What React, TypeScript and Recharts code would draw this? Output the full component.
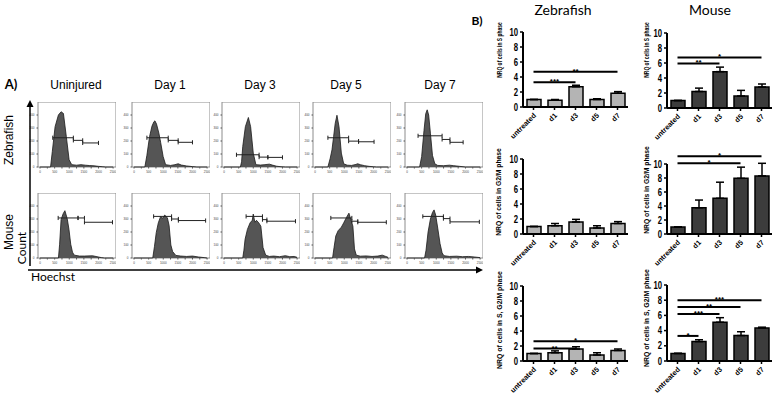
import React from 'react';
import {
  BarChart, Bar, XAxis, YAxis, ErrorBar, ReferenceLine,
  AreaChart, Area, ReferenceArea,
} from 'recharts';

const SANS = '"Liberation Sans", Arial, sans-serif';
const CAL = 'Lato, "Open Sans", sans-serif';

// ---- panel B data ----
const groups = ['untreated', 'd1', 'd3', 'd5', 'd7'];
const nrqTicks = [0, 2, 4, 6, 8, 10];

const zfS = [1.0, 0.9, 2.7, 1.0, 1.85];
const zfSErr = [0, 0.1, 0.2, 0.1, 0.2];
const msS = [1.0, 2.2, 4.85, 1.6, 2.8];
const msSErr = [0, 0.45, 0.6, 0.75, 0.4];
const zfG2M = [1.0, 1.1, 1.6, 0.8, 1.4];
const zfG2MErr = [0, 0.3, 0.35, 0.3, 0.25];
const msG2M = [1.0, 3.75, 5.1, 7.95, 8.3];
const msG2MErr = [0, 1.1, 2.3, 1.6, 1.8];
const zfSG2M = [1.0, 1.1, 1.6, 0.8, 1.4];
const zfSG2MErr = [0, 0.25, 0.3, 0.3, 0.2];
const msSG2M = [1.0, 2.55, 5.1, 3.35, 4.35];
const msSG2MErr = [0, 0.25, 0.6, 0.5, 0.1];

type Sig = { to: string; y: number; mark: string };
const zfSSig: Sig[] = [{ to: 'd3', y: 3.3, mark: '***' }, { to: 'd7', y: 4.7, mark: '**' }];
const msSSig: Sig[] = [{ to: 'd3', y: 5.95, mark: '**' }, { to: 'd7', y: 6.75, mark: '*' }];
const zfG2MSig: Sig[] = [];
const msG2MSig: Sig[] = [{ to: 'd5', y: 10.1, mark: '*' }, { to: 'd7', y: 11.1, mark: '*' }];
const zfSG2MSig: Sig[] = [{ to: 'd3', y: 1.66, mark: '**' }, { to: 'd7', y: 2.63, mark: '*' }];
const msSG2MSig: Sig[] = [
  { to: 'd1', y: 3.3, mark: '*' },
  { to: 'd3', y: 6.2, mark: '***' },
  { to: 'd5', y: 7.1, mark: '**' },
  { to: 'd7', y: 8.0, mark: '***' },
];

// ---- panel A data: Hoechst histograms [intensity, count] ----
const dayTitles = ['Uninjured', 'Day 1', 'Day 3', 'Day 5', 'Day 7'];
const hoechstTicks = [0, 250, 500, 750, 1000, 1250, 1500, 1750, 2000, 2250, 2500];
const zfCountTicks = [0, 100, 200, 300, 400];
const msCountTicks = [0, 100, 200, 300, 400];

const zfUninjured = [[0, 0], [360, 0], [420, 120], [515, 310], [628, 400], [720, 425], [800, 412], [900, 233], [995, 55], [1085, 18], [1250, 14], [1400, 18], [1550, 14], [1700, 11], [1850, 9], [2000, 5], [2150, 2], [2250, 0], [2500, 0]];
const zfDay1 = [[0, 0], [370, 0], [440, 90], [530, 233], [615, 315], [680, 348], [715, 355], [770, 330], [850, 260], [910, 190], [995, 81], [1080, 18], [1250, 12], [1400, 18], [1510, 25], [1620, 15], [1800, 8], [2000, 3], [2150, 0], [2500, 0]];
const zfDay3 = [[0, 0], [560, 0], [600, 40], [640, 157], [730, 310], [833, 381], [910, 310], [1000, 107], [1090, 18], [1250, 15], [1400, 18], [1550, 22], [1650, 15], [1800, 6], [1950, 2], [2100, 0], [2500, 0]];
const zfDay5 = [[0, 0], [440, 0], [520, 68], [580, 132], [635, 233], [690, 335], [750, 398], [820, 310], [900, 107], [980, 25], [1100, 14], [1250, 12], [1400, 20], [1460, 25], [1550, 18], [1700, 10], [1850, 5], [2000, 2], [2100, 0], [2500, 0]];
const zfDay7 = [[0, 0], [430, 0], [500, 80], [580, 280], [640, 410], [690, 440], [740, 400], [800, 260], [870, 90], [950, 25], [1050, 12], [1250, 10], [1450, 14], [1600, 10], [1800, 5], [2000, 0], [2500, 0]];

const msUninjured = [[0, 0], [630, 0], [670, 106], [720, 295], [790, 340], [850, 364], [930, 303], [990, 220], [1050, 106], [1110, 45], [1170, 22], [1350, 15], [1520, 15], [1800, 17], [1950, 10], [2100, 3], [2200, 0], [2500, 0]];
const msDay1 = [[0, 0], [640, 0], [700, 90], [760, 195], [830, 270], [910, 320], [970, 305], [1050, 330], [1140, 310], [1200, 250], [1260, 100], [1320, 50], [1430, 20], [1600, 15], [1800, 12], [2000, 15], [2200, 8], [2400, 3], [2500, 0]];
const msDay3 = [[0, 0], [640, 0], [680, 60], [720, 144], [800, 220], [890, 270], [965, 290], [1000, 338], [1055, 275], [1110, 290], [1190, 270], [1260, 245], [1335, 80], [1425, 22], [1550, 12], [1700, 15], [1900, 10], [2100, 18], [2250, 10], [2400, 12], [2500, 5]];
const msDay5 = [[0, 0], [600, 0], [650, 80], [710, 169], [790, 210], [900, 237], [980, 270], [1070, 310], [1160, 345], [1205, 310], [1295, 245], [1350, 70], [1410, 22], [1550, 14], [1750, 16], [1950, 12], [2150, 15], [2300, 22], [2420, 12], [2500, 5]];
const msDay7 = [[0, 0], [600, 0], [650, 60], [720, 200], [800, 300], [870, 350], [925, 370], [980, 330], [1050, 230], [1130, 110], [1200, 40], [1260, 18], [1450, 12], [1700, 14], [1900, 10], [2100, 12], [2300, 8], [2500, 3]];

// gates: G1 / S / G2M boundaries and marker heights
const zfGateX = [[435, 1140, 1460, 2000], [440, 1170, 1510, 2000], [425, 1200, 1500, 2000], [440, 1150, 1490, 2020], [377, 1200, 1470, 1920]];
const zfGateY = [[225, 205, 185], [225, 205, 190], [94, 76, 74], [225, 199, 194], [240, 212, 190]];
const msGateX = [[620, 1300, 1520, 2480], [670, 1285, 1517, 2450], [755, 1315, 1467, 2445], [540, 1260, 1463, 2440], [540, 1245, 1470, 2475]];
const msGateY = [[308, 308, 275], [320, 300, 288], [320, 295, 283], [308, 283, 275], [320, 303, 278]];

const zfHists = [zfUninjured, zfDay1, zfDay3, zfDay5, zfDay7];
const msHists = [msUninjured, msDay1, msDay3, msDay5, msDay7];

const boxLeft = [38, 132, 222, 313, 405];
const titleCx = [76, 170, 260, 346, 440];

function GroupTick(props: any) {
  const { x, y, payload } = props;
  const ax = x + 3;
  const ay = y + 4;
  return (
    <text x={ax} y={ay} transform={`rotate(-45 ${ax} ${ay})`} textAnchor="end"
      fontSize={7.2} fontWeight="bold" fontFamily={SANS} fill="#000">
      {payload.value}
    </text>
  );
}

function NrqTick(props: any) {
  const { x, y, payload } = props;
  const s = String(payload.value);
  return (
    <text x={x} y={y} dy={3.6} textAnchor="end" fontSize={10} fontWeight="bold"
      fontFamily={SANS} fill="#000" textLength={s.length * 4.3} lengthAdjust="spacingAndGlyphs">
      {s}
    </text>
  );
}

function NrqChart(props: {
  left: number; plotTop: number; plotH: number; values: number[]; errs: number[];
  fill: string; sigs: Sig[];
}) {
  const { left, plotTop, plotH, values, errs, fill, sigs } = props;
  const data = groups.map((g, i) => ({ g, v: values[i], e: [0, errs[i]] }));
  const top = plotTop - 30;
  return (
    <div style={{ position: 'absolute', left, top }}>
      <BarChart width={152} height={30 + plotH + 40} data={data}
        margin={{ top: 30, right: 2, bottom: 0, left: 0 }} barSize={14}>
        <XAxis dataKey="g" height={40} interval={0} tick={<GroupTick />} tickSize={3}
          tickLine={{ stroke: '#000', strokeWidth: 1.5 }} axisLine={{ stroke: '#000', strokeWidth: 2 }} />
        <YAxis domain={[0, 10]} allowDataOverflow ticks={nrqTicks} interval={0} width={45} tickSize={3}
          tick={<NrqTick />}
          tickLine={{ stroke: '#000', strokeWidth: 1.5 }} axisLine={{ stroke: '#000', strokeWidth: 2 }} />
        <Bar dataKey="v" fill={fill} stroke="#000" strokeWidth={1.5} isAnimationActive={false}>
          <ErrorBar dataKey="e" width={4} stroke="#000" strokeWidth={1.5} direction="y" />
        </Bar>
        {sigs.map((s) => (
          <ReferenceLine key={s.to + s.y} ifOverflow="visible" stroke="#000" strokeWidth={2}
            segment={[{ x: 'untreated', y: s.y }, { x: s.to, y: s.y }]}
            label={{ value: s.mark, position: 'top', offset: -2, fontSize: 8, fontWeight: 'bold', fill: '#000', fontFamily: SANS }} />
        ))}
      </BarChart>
    </div>
  );
}

function Hoechst(props: { left: number; top: number; points: number[][]; gx: number[]; gy: number[]; yTicks: number[] }) {
  const { left, top, points, gx, gy, yTicks } = props;
  const data = points.map(([x, c]) => ({ x, c }));
  const tickStyle = { fontSize: 3, fill: '#444', fontFamily: SANS };
  return (
    <div style={{ position: 'absolute', left: left - 10, top }}>
      <AreaChart width={88} height={75} data={data} margin={{ top: 0, right: 0, left: 0, bottom: 0 }}>
        <XAxis dataKey="x" type="number" domain={[-70, 2600]} ticks={hoechstTicks} interval={0}
          height={10} tick={tickStyle} tickSize={1.5} tickLine={{ stroke: '#555' }} axisLine={false}
          tickFormatter={(v: number) => (v % 500 === 0 ? String(v) : '')} />
        <YAxis type="number" domain={[0, 500]} ticks={yTicks} width={10} tick={tickStyle}
          tickSize={1.5} tickLine={{ stroke: '#555' }} axisLine={false} />
        <ReferenceArea x1={-70} x2={2600} y1={0} y2={500} fill="#fff" fillOpacity={0}
          stroke="#8c8c8c" strokeWidth={1} ifOverflow="visible" />
        <Area type="linear" dataKey="c" stroke="#1a1a1a" strokeWidth={0.8} fill="#555"
          fillOpacity={1} isAnimationActive={false} dot={false} activeDot={false} />
        {gy.map((h, i) => (
          <ReferenceLine key={'g' + i} ifOverflow="visible" stroke="#222" strokeWidth={1}
            segment={[{ x: gx[i], y: h }, { x: gx[i + 1], y: h }]} />
        ))}
        {gy.map((h, i) => (
          <ReferenceLine key={'a' + i} ifOverflow="visible" stroke="#222" strokeWidth={1}
            segment={[{ x: gx[i], y: h - 16 }, { x: gx[i], y: h + 16 }]} />
        ))}
        {gy.map((h, i) => (
          <ReferenceLine key={'b' + i} ifOverflow="visible" stroke="#222" strokeWidth={1}
            segment={[{ x: gx[i + 1], y: h - 16 }, { x: gx[i + 1], y: h + 16 }]} />
        ))}
      </AreaChart>
    </div>
  );
}

function Rot(props: { cx: number; cy: number; text: string; font: string; size: number; weight?: string }) {
  const { cx, cy, text, font, size, weight } = props;
  return (
    <div style={{
      position: 'absolute', left: cx - 50, top: cy - 8, width: 100, height: 16, lineHeight: '16px',
      textAlign: 'center', transform: 'rotate(-90deg)', fontFamily: font, fontSize: size,
      fontWeight: weight ?? 'normal', color: '#000', whiteSpace: 'nowrap',
    }}>{text}</div>
  );
}

function Txt(props: { cx: number; cy: number; text: string; font: string; size: number; weight?: string }) {
  const { cx, cy, text, font, size, weight } = props;
  return (
    <div style={{
      position: 'absolute', left: cx - 60, top: cy - 9, width: 120, height: 18, lineHeight: '18px',
      textAlign: 'center', fontFamily: font, fontSize: size, fontWeight: weight ?? 'normal',
      color: '#000', whiteSpace: 'nowrap',
    }}>{text}</div>
  );
}

// axis titles of panel B, squeezed along their length like the original
function NrqTitle(props: { x: number; y: number; squeeze: number; text: string }) {
  const { x, y, squeeze, text } = props;
  return (
    <g transform={`translate(${x} ${y}) rotate(-90) scale(${squeeze} 1)`}>
      <text x={0} y={0} textAnchor="middle" dominantBaseline="central" fontSize={7.5}
        fontWeight="bold" fontFamily={SANS} fill="#000">
        {text}
      </text>
    </g>
  );
}

export default function App() {
  return (
    <div style={{ position: 'absolute', left: 0, top: 0, width: 778, height: 399, background: '#fff', overflow: 'hidden' }}>
      {zfHists.map((p, i) => (
        <Hoechst key={'zf' + i} left={boxLeft[i]} top={102} points={p} gx={zfGateX[i]} gy={zfGateY[i]} yTicks={zfCountTicks} />
      ))}
      {msHists.map((p, i) => (
        <Hoechst key={'ms' + i} left={boxLeft[i]} top={193} points={p} gx={msGateX[i]} gy={msGateY[i]} yTicks={msCountTicks} />
      ))}

      <NrqChart left={478} plotTop={32} plotH={75} values={zfS} errs={zfSErr} fill="#b4b4b4" sigs={zfSSig} />
      <NrqChart left={622} plotTop={33} plotH={75} values={msS} errs={msSErr} fill="#3c3c3c" sigs={msSSig} />
      <NrqChart left={478} plotTop={159} plotH={75} values={zfG2M} errs={zfG2MErr} fill="#b4b4b4" sigs={zfG2MSig} />
      <NrqChart left={622} plotTop={164} plotH={70} values={msG2M} errs={msG2MErr} fill="#3c3c3c" sigs={msG2MSig} />
      <NrqChart left={478} plotTop={286} plotH={75} values={zfSG2M} errs={zfSG2MErr} fill="#b4b4b4" sigs={zfSG2MSig} />
      <NrqChart left={622} plotTop={285} plotH={76} values={msSG2M} errs={msSG2MErr} fill="#3c3c3c" sigs={msSG2MSig} />

      <svg width={778} height={399} style={{ position: 'absolute', left: 0, top: 0, pointerEvents: 'none' }}>
        <line x1={30} y1={266} x2={30} y2={104} stroke="#000" strokeWidth={1.5} />
        <polygon points="26.5,107 33.5,107 30,100" fill="#000" />
        <line x1={28} y1={270} x2={477} y2={270} stroke="#000" strokeWidth={1.5} />
        <polygon points="476,266.5 476,273.5 483,270" fill="#000" />
        <NrqTitle x={499} y={50} squeeze={0.66} text="NRQ of cells in S phase" />
        <NrqTitle x={646} y={50} squeeze={0.66} text="NRQ of cells in S phase" />
        <NrqTitle x={499} y={192} squeeze={0.9} text="NRQ of cells in G2/M phase" />
        <NrqTitle x={647} y={190} squeeze={0.9} text="NRQ of cells in G2/M phase" />
        <NrqTitle x={499} y={320} squeeze={0.92} text="NRQ of cells in S, G2/M phase" />
        <NrqTitle x={646} y={318} squeeze={0.92} text="NRQ of cells in S, G2/M phase" />
      </svg>

      <Txt cx={11} cy={84} text="A)" font={CAL} size={13} weight="bold" />
      {dayTitles.map((t, i) => (
        <Txt key={t} cx={titleCx[i]} cy={85} text={t} font={SANS} size={12} />
      ))}
      <Rot cx={9} cy={140} text="Zebrafish" font={SANS} size={12} />
      <Rot cx={9} cy={232} text="Mouse" font={SANS} size={12} />
      <Rot cx={22} cy={248} text="Count" font={CAL} size={12} />
      <div style={{ position: 'absolute', left: 31, top: 270, fontFamily: CAL, fontSize: 12, lineHeight: '14px' }}>Hoechst</div>

      <Txt cx={477} cy={21} text="B)" font={CAL} size={12} weight="bold" />
      <Txt cx={563} cy={10} text="Zebrafish" font={CAL} size={14} />
      <Txt cx={710} cy={10} text="Mouse" font={CAL} size={14} />
    </div>
  );
}
